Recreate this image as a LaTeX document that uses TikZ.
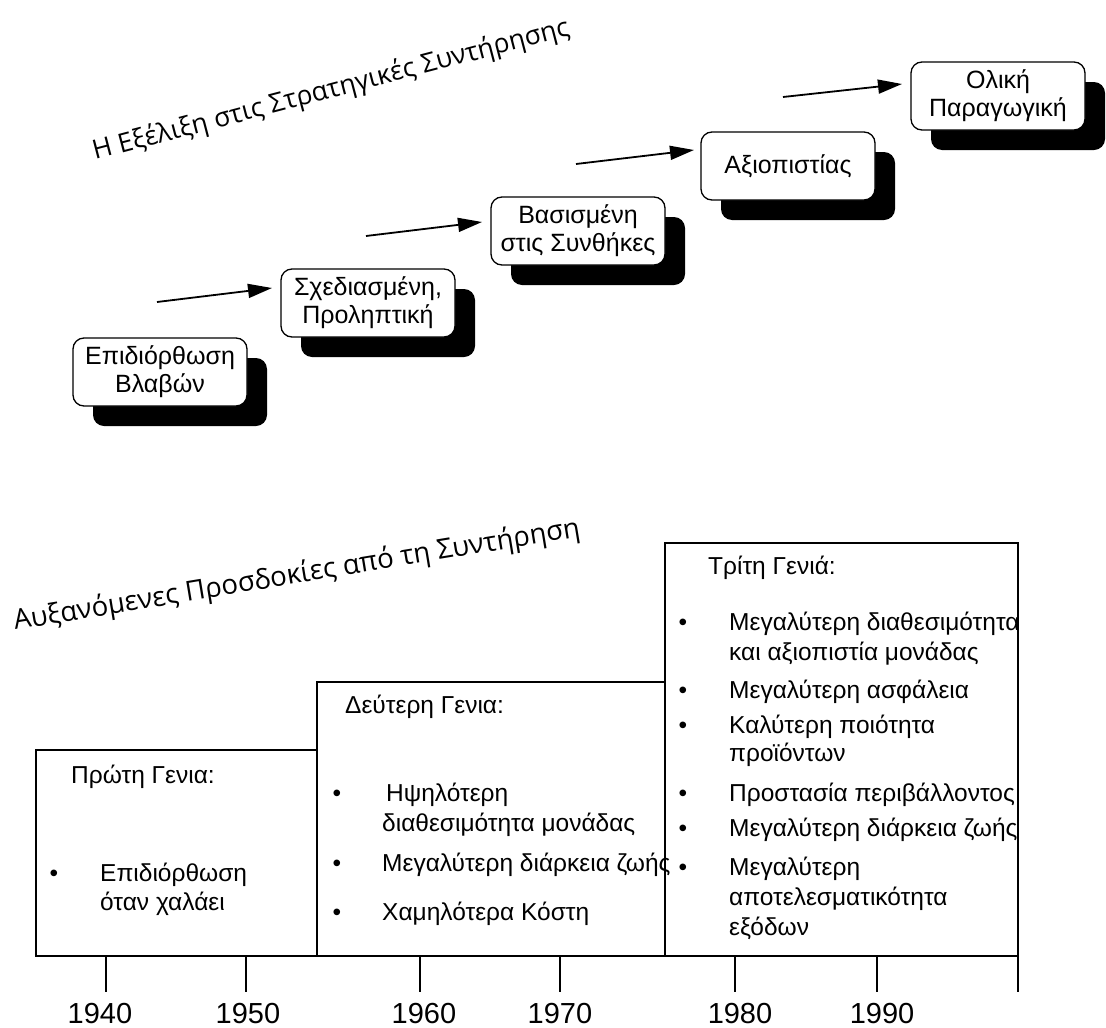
\documentclass[tikz,border=0pt]{standalone}
\usepackage{fontspec}
\setmainfont{Liberation Sans}
\newfontfamily\titlefont{Open Sans}
\usetikzlibrary{arrows.meta,shadows,calc}
\begin{document}
\begin{tikzpicture}[x=1pt,y=-1pt,
  stagebox/.style={draw, line width=1.3pt, fill=white, rounded corners=11pt,
    minimum width=174pt, minimum height=68pt, align=center, inner sep=2pt,
    font=\fontsize{25}{28}\selectfont,
    drop shadow={opacity=1, fill=black, shadow xshift=20pt, shadow yshift=-20pt}},
  stagearrow/.style={line width=1.8pt, -{Triangle[length=24pt,width=14pt]}},
  heading/.style={anchor=base west, inner sep=0pt},
  item/.style={anchor=base west, inner sep=0pt, font=\fontsize{24.5}{29}\selectfont},
  bullet/.style={anchor=base, inner sep=0pt, font=\fontsize{24.5}{29}\selectfont},
  yearlabel/.style={anchor=base, inner sep=0pt, font=\fontsize{29}{30}\selectfont},
  frame/.style={line width=1.3pt}
]
\useasboundingbox (0,0) rectangle (1106,1028);

% ---- headings ----
\node[heading, rotate=14.7, font=\titlefont\fontsize{26.5}{30}\selectfont] (h1) at (95,160)
  {Η Εξέλιξη στις Στρατηγικές Συντήρησης};
\node[heading, rotate=9.4, font=\titlefont\fontsize{27.5}{32}\selectfont] (h2) at (15,630)
  {Αυξανόμενες Προσδοκίες από τη Συντήρηση};

% ---- maintenance strategy stages ----
\node[stagebox] (s1) at (160,372) {Επιδιόρθωση\\Βλαβών};
\node[stagebox] (s2) at (368,303) {Σχεδιασμένη,\\Προληπτική};
\node[stagebox] (s3) at (578,231) {Βασισμένη\\στις Συνθήκες};
\node[stagebox] (s4) at (788,166) {Αξιοπιστίας};
\node[stagebox] (s5) at (998,96) {Ολική\\Παραγωγική};

\coordinate (a1) at (157,302); \coordinate (b1) at (272,288);
\coordinate (a2) at (366,236); \coordinate (b2) at (482,222);
\coordinate (a3) at (576,164); \coordinate (b3) at (694,150);
\coordinate (a4) at (783,97);  \coordinate (b4) at (902,84);
\draw[stagearrow] (a1) -- (b1);
\draw[stagearrow] (a2) -- (b2);
\draw[stagearrow] (a3) -- (b3);
\draw[stagearrow] (a4) -- (b4);

% ---- generation frames and time axis ----
\draw[frame] (36,750) rectangle (317,956);
\draw[frame] (317,682) rectangle (665,956);
\draw[frame] (665,543) rectangle (1018,956);
\draw[frame] (36,956) -- (1018,956);
\foreach \tx in {106,246,420,560,735,877,1018}
  \draw[frame] (\tx,956) -- (\tx,992);

\node[yearlabel] (y40) at (100,1023) {1940};
\node[yearlabel] (y50) at (248,1023) {1950};
\node[yearlabel] (y60) at (424,1023) {1960};
\node[yearlabel] (y70) at (560,1023) {1970};
\node[yearlabel] (y80) at (740,1023) {1980};
\node[yearlabel] (y90) at (882,1023) {1990};

% ---- first generation ----
\node[item] (g1) at (71,783) {Πρώτη Γενια:};
\node[bullet] (g1d1) at (54,881) {•};
\node[item] (g1i1a) at (100,881) {Επιδιόρθωση};
\node[item] (g1i1b) at (100,910) {όταν χαλάει};

% ---- second generation ----
\begin{scope}
\clip (317,682) rectangle (669,956);
\node[item] (g2) at (345,713) {Δεύτερη Γενια:};
\node[bullet] (g2d1) at (337,801) {•};
\node[item] (g2i1a) at (386,801) {Ηψηλότερη};
\node[item] (g2i1b) at (382,831) {διαθεσιμότητα μονάδας};
\node[bullet] (g2d2) at (337,871) {•};
\node[item] (g2i2) at (382,871) {Μεγαλύτερη διάρκεια ζωής};
\node[bullet] (g2d3) at (337,920) {•};
\node[item] (g2i3) at (382,920) {Χαμηλότερα Κόστη};
\end{scope}

% ---- third generation ----
\begin{scope}
\clip (665,543) rectangle (1021,956);
\node[item] (g3) at (708,574) {Τρίτη Γενιά:};
\node[bullet] (g3d1) at (683,630) {•};
\node[item] (g3i1a) at (729,630) {Μεγαλύτερη διαθεσιμότητα};
\node[item] (g3i1b) at (729,660) {και αξιοπιστία μονάδας};
\node[bullet] (g3d2) at (683,698) {•};
\node[item] (g3i2) at (729,698) {Μεγαλύτερη ασφάλεια};
\node[bullet] (g3d3) at (683,733) {•};
\node[item] (g3i3a) at (729,733) {Καλύτερη ποιότητα};
\node[item] (g3i3b) at (729,761) {προϊόντων};
\node[bullet] (g3d4) at (683,801) {•};
\node[item] (g3i4) at (729,801) {Προστασία περιβάλλοντος};
\node[bullet] (g3d5) at (683,836) {•};
\node[item] (g3i5) at (729,836) {Μεγαλύτερη διάρκεια ζωής};
\node[bullet] (g3d6) at (683,875) {•};
\node[item] (g3i6a) at (729,875) {Μεγαλύτερη};
\node[item] (g3i6b) at (729,905) {αποτελεσματικότητα};
\node[item] (g3i6c) at (729,935) {εξόδων};
\end{scope}
\end{tikzpicture}
\end{document}
